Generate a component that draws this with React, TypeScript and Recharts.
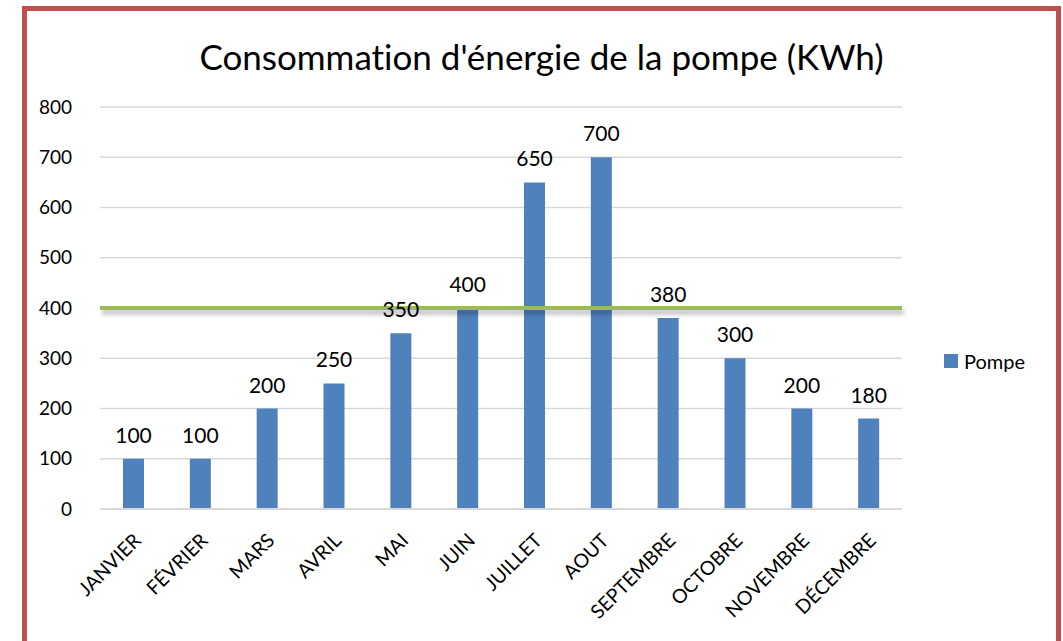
import React from 'react';
import { BarChart, Bar, XAxis, YAxis, CartesianGrid, ReferenceLine, LabelList } from 'recharts';

const mois = ['JANVIER', 'FÉVRIER', 'MARS', 'AVRIL', 'MAI', 'JUIN', 'JUILLET', 'AOUT', 'SEPTEMBRE', 'OCTOBRE', 'NOVEMBRE', 'DÉCEMBRE'];
const pompe = [100, 100, 200, 250, 350, 400, 650, 700, 380, 300, 200, 180];
const yTicks = [0, 100, 200, 300, 400, 500, 600, 700, 800];
const seuil = 400;

const data = mois.map((m, i) => ({ mois: m, pompe: pompe[i] }));

const FONT = 'Lato, "Open Sans", sans-serif';

function MonthTick(props: any) {
  const { x, y, payload } = props;
  return (
    <g transform={`translate(${x - 2},${y + 14})`}>
      <text transform="rotate(-45)" textAnchor="end" dominantBaseline="hanging" fontSize={19.5} fill="#000" fontFamily={FONT}>
        {payload.value}
      </text>
    </g>
  );
}

function SeuilLine(props: any) {
  const { x1, y1, x2, y2 } = props;
  return (
    <g>
      <line x1={x1 + 2} y1={y1 + 4} x2={x2 + 2} y2={y2 + 4} stroke="#000" strokeOpacity={0.25} strokeWidth={5} style={{ filter: 'blur(2px)' }} />
      <line x1={x1} y1={y1} x2={x2} y2={y2} stroke="#9BBB59" strokeWidth={4} />
    </g>
  );
}

export default function App() {
  return (
    <div style={{ position: 'fixed', left: 0, top: 0, width: 1063, height: 641, background: '#fff', overflow: 'hidden', fontVariantLigatures: 'none' }}>
      <div style={{ position: 'absolute', left: 22, top: 6, width: 1029, height: 700, border: '5px solid #C0504D' }} />
      <div style={{ position: 'absolute', left: 0, width: 1083, top: 35, textAlign: 'center', fontFamily: FONT, fontSize: 35, color: '#000', lineHeight: '42px' }}>
        Consommation d'énergie de la pompe (KWh)
      </div>
      <div style={{ position: 'absolute', left: 0, top: 0 }}>
        <BarChart width={1063} height={641} data={data} margin={{ top: 107, right: 161, bottom: 32, left: 0 }}>
          <CartesianGrid vertical={false} stroke="#D9D9D9" strokeWidth={1.5} />
          <XAxis dataKey="mois" interval={0} height={100} tickLine={false} axisLine={{ stroke: '#D9D9D9', strokeWidth: 2 }} tick={<MonthTick />} />
          <YAxis domain={[0, 800]} ticks={yTicks} width={100} tickLine={false} axisLine={false} tickMargin={22} tick={{ fontSize: 19, fill: '#000', fontFamily: FONT }} />
          <Bar dataKey="pompe" name="Pompe" fill="#4F81BD" barSize={21} isAnimationActive={false}>
            <LabelList dataKey="pompe" position="top" offset={16} fill="#000" fontSize={21} fontFamily={FONT} />
          </Bar>
          <ReferenceLine y={seuil} shape={<SeuilLine />} />
        </BarChart>
      </div>
      <div style={{ position: 'absolute', left: 944, top: 349, display: 'flex', alignItems: 'center', fontFamily: FONT, fontSize: 20, color: '#000' }}>
        <span style={{ width: 14, height: 14, background: '#4F81BD', display: 'inline-block', marginRight: 6 }} />
        Pompe
      </div>
    </div>
  );
}
